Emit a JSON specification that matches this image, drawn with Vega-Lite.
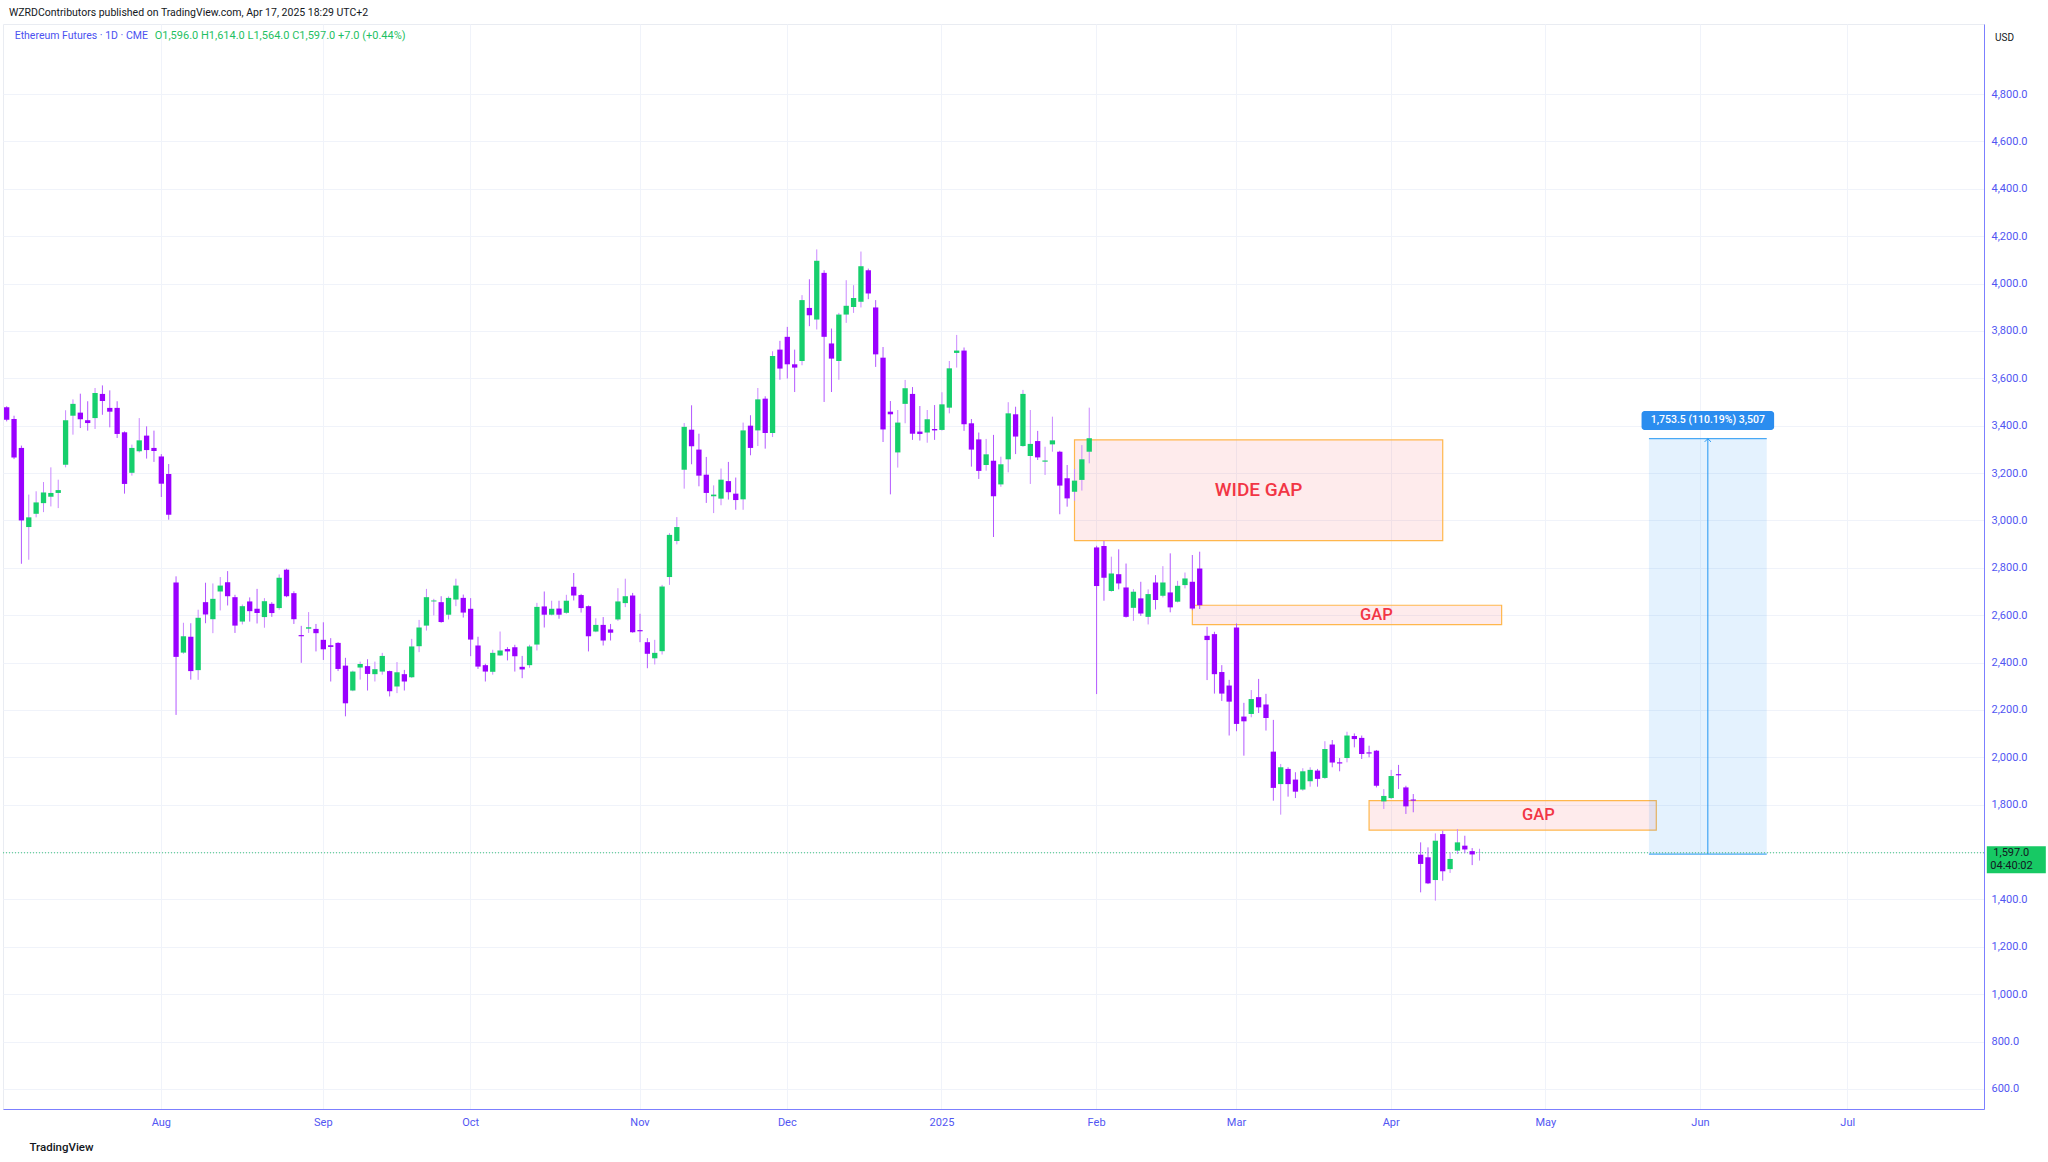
{
  "$schema": "https://vega.github.io/schema/vega-lite/v6.json",
  "width": 1981,
  "height": 1085,
  "autosize": {"type": "none"},
  "padding": {"left": 3, "top": 24, "right": 64, "bottom": 53},
  "background": "#ffffff",
  "config": {
    "font": "Roboto",
    "view": {"stroke": "#e9ecf2", "strokeWidth": 1},
    "axis": {"labelFont": "Roboto", "titleFont": "Roboto"}
  },
  "title": {
    "text": "WZRDContributors published on TradingView.com, Apr 17, 2025 18:29 UTC+2",
    "anchor": "start", "frame": "group", "orient": "top",
    "fontSize": 10.5, "fontWeight": "normal", "color": "#131722",
    "offset": 6, "dx": 6
  },
  "datasets": {
    "candles": [
      {"d":"2024-07-02","o":3478,"h":3482,"l":3418,"c":3425},
      {"d":"2024-07-03","o":3428,"h":3442,"l":3259,"c":3266},
      {"d":"2024-07-05","o":3306,"h":3316,"l":2817,"c":3000},
      {"d":"2024-07-08","o":2972,"h":3109,"l":2834,"c":3013},
      {"d":"2024-07-09","o":3028,"h":3123,"l":3013,"c":3076},
      {"d":"2024-07-10","o":3073,"h":3162,"l":3035,"c":3118},
      {"d":"2024-07-11","o":3100,"h":3224,"l":3059,"c":3116},
      {"d":"2024-07-12","o":3116,"h":3172,"l":3052,"c":3128},
      {"d":"2024-07-15","o":3235,"h":3465,"l":3224,"c":3423},
      {"d":"2024-07-16","o":3442,"h":3511,"l":3362,"c":3492},
      {"d":"2024-07-17","o":3455,"h":3535,"l":3390,"c":3427},
      {"d":"2024-07-18","o":3423,"h":3503,"l":3379,"c":3411},
      {"d":"2024-07-19","o":3432,"h":3559,"l":3386,"c":3538},
      {"d":"2024-07-22","o":3534,"h":3570,"l":3446,"c":3504},
      {"d":"2024-07-23","o":3475,"h":3549,"l":3393,"c":3459},
      {"d":"2024-07-24","o":3475,"h":3503,"l":3348,"c":3365},
      {"d":"2024-07-25","o":3372,"h":3376,"l":3113,"c":3154},
      {"d":"2024-07-26","o":3201,"h":3320,"l":3189,"c":3306},
      {"d":"2024-07-29","o":3292,"h":3432,"l":3287,"c":3338},
      {"d":"2024-07-30","o":3358,"h":3397,"l":3261,"c":3297},
      {"d":"2024-07-31","o":3306,"h":3379,"l":3247,"c":3293},
      {"d":"2024-08-01","o":3270,"h":3280,"l":3099,"c":3155},
      {"d":"2024-08-02","o":3196,"h":3238,"l":3003,"c":3024},
      {"d":"2024-08-05","o":2738,"h":2764,"l":2179,"c":2424},
      {"d":"2024-08-06","o":2442,"h":2568,"l":2437,"c":2511},
      {"d":"2024-08-07","o":2509,"h":2566,"l":2328,"c":2364},
      {"d":"2024-08-08","o":2368,"h":2623,"l":2327,"c":2589},
      {"d":"2024-08-09","o":2655,"h":2737,"l":2566,"c":2603},
      {"d":"2024-08-12","o":2583,"h":2734,"l":2524,"c":2669},
      {"d":"2024-08-13","o":2700,"h":2761,"l":2620,"c":2725},
      {"d":"2024-08-14","o":2739,"h":2786,"l":2641,"c":2680},
      {"d":"2024-08-15","o":2676,"h":2686,"l":2525,"c":2556},
      {"d":"2024-08-16","o":2573,"h":2645,"l":2561,"c":2638},
      {"d":"2024-08-19","o":2658,"h":2675,"l":2573,"c":2617},
      {"d":"2024-08-20","o":2627,"h":2711,"l":2565,"c":2609},
      {"d":"2024-08-21","o":2592,"h":2672,"l":2547,"c":2659},
      {"d":"2024-08-22","o":2648,"h":2655,"l":2593,"c":2609},
      {"d":"2024-08-23","o":2630,"h":2772,"l":2623,"c":2758},
      {"d":"2024-08-26","o":2792,"h":2796,"l":2676,"c":2680},
      {"d":"2024-08-27","o":2693,"h":2701,"l":2563,"c":2583},
      {"d":"2024-08-28","o":2516,"h":2555,"l":2399,"c":2511},
      {"d":"2024-08-29","o":2543,"h":2613,"l":2525,"c":2549},
      {"d":"2024-08-30","o":2542,"h":2563,"l":2447,"c":2524},
      {"d":"2024-09-03","o":2496,"h":2570,"l":2411,"c":2456},
      {"d":"2024-09-04","o":2473,"h":2503,"l":2320,"c":2466},
      {"d":"2024-09-05","o":2483,"h":2486,"l":2364,"c":2373},
      {"d":"2024-09-06","o":2387,"h":2420,"l":2173,"c":2228},
      {"d":"2024-09-09","o":2282,"h":2366,"l":2279,"c":2362},
      {"d":"2024-09-10","o":2379,"h":2404,"l":2328,"c":2394},
      {"d":"2024-09-11","o":2385,"h":2414,"l":2282,"c":2352},
      {"d":"2024-09-12","o":2351,"h":2404,"l":2320,"c":2372},
      {"d":"2024-09-13","o":2362,"h":2441,"l":2349,"c":2428},
      {"d":"2024-09-16","o":2364,"h":2366,"l":2257,"c":2279},
      {"d":"2024-09-17","o":2299,"h":2402,"l":2271,"c":2359},
      {"d":"2024-09-18","o":2351,"h":2369,"l":2282,"c":2320},
      {"d":"2024-09-19","o":2338,"h":2500,"l":2335,"c":2468},
      {"d":"2024-09-20","o":2469,"h":2580,"l":2444,"c":2548},
      {"d":"2024-09-23","o":2556,"h":2711,"l":2535,"c":2676},
      {"d":"2024-09-24","o":2658,"h":2669,"l":2599,"c":2662},
      {"d":"2024-09-25","o":2655,"h":2680,"l":2568,"c":2571},
      {"d":"2024-09-26","o":2602,"h":2679,"l":2582,"c":2673},
      {"d":"2024-09-27","o":2666,"h":2754,"l":2638,"c":2725},
      {"d":"2024-09-30","o":2673,"h":2687,"l":2590,"c":2611},
      {"d":"2024-10-01","o":2627,"h":2672,"l":2427,"c":2497},
      {"d":"2024-10-02","o":2472,"h":2509,"l":2373,"c":2383},
      {"d":"2024-10-03","o":2389,"h":2395,"l":2320,"c":2362},
      {"d":"2024-10-04","o":2361,"h":2454,"l":2349,"c":2441},
      {"d":"2024-10-07","o":2430,"h":2531,"l":2428,"c":2451},
      {"d":"2024-10-08","o":2457,"h":2465,"l":2409,"c":2447},
      {"d":"2024-10-09","o":2465,"h":2475,"l":2362,"c":2427},
      {"d":"2024-10-10","o":2382,"h":2428,"l":2334,"c":2371},
      {"d":"2024-10-11","o":2389,"h":2475,"l":2378,"c":2468},
      {"d":"2024-10-14","o":2476,"h":2652,"l":2451,"c":2635},
      {"d":"2024-10-15","o":2637,"h":2700,"l":2548,"c":2602},
      {"d":"2024-10-16","o":2602,"h":2661,"l":2599,"c":2627},
      {"d":"2024-10-17","o":2628,"h":2661,"l":2585,"c":2602},
      {"d":"2024-10-18","o":2610,"h":2686,"l":2606,"c":2661},
      {"d":"2024-10-21","o":2720,"h":2778,"l":2662,"c":2683},
      {"d":"2024-10-22","o":2685,"h":2690,"l":2611,"c":2630},
      {"d":"2024-10-23","o":2638,"h":2641,"l":2447,"c":2511},
      {"d":"2024-10-24","o":2531,"h":2587,"l":2528,"c":2559},
      {"d":"2024-10-25","o":2559,"h":2592,"l":2472,"c":2493},
      {"d":"2024-10-28","o":2540,"h":2563,"l":2493,"c":2526},
      {"d":"2024-10-29","o":2582,"h":2714,"l":2576,"c":2658},
      {"d":"2024-10-30","o":2651,"h":2754,"l":2634,"c":2680},
      {"d":"2024-10-31","o":2683,"h":2694,"l":2526,"c":2528},
      {"d":"2024-11-01","o":2537,"h":2606,"l":2486,"c":2532},
      {"d":"2024-11-04","o":2486,"h":2503,"l":2376,"c":2437},
      {"d":"2024-11-05","o":2418,"h":2496,"l":2392,"c":2441},
      {"d":"2024-11-06","o":2448,"h":2728,"l":2434,"c":2721},
      {"d":"2024-11-07","o":2761,"h":2946,"l":2728,"c":2939},
      {"d":"2024-11-08","o":2913,"h":3014,"l":2899,"c":2972},
      {"d":"2024-11-11","o":3214,"h":3411,"l":3134,"c":3395},
      {"d":"2024-11-12","o":3383,"h":3486,"l":3237,"c":3313},
      {"d":"2024-11-13","o":3299,"h":3366,"l":3144,"c":3189},
      {"d":"2024-11-14","o":3193,"h":3268,"l":3074,"c":3116},
      {"d":"2024-11-15","o":3102,"h":3148,"l":3031,"c":3109},
      {"d":"2024-11-18","o":3092,"h":3219,"l":3064,"c":3172},
      {"d":"2024-11-19","o":3166,"h":3247,"l":3088,"c":3119},
      {"d":"2024-11-20","o":3113,"h":3181,"l":3045,"c":3086},
      {"d":"2024-11-21","o":3089,"h":3413,"l":3045,"c":3380},
      {"d":"2024-11-22","o":3400,"h":3444,"l":3275,"c":3306},
      {"d":"2024-11-25","o":3380,"h":3559,"l":3314,"c":3511},
      {"d":"2024-11-26","o":3514,"h":3524,"l":3303,"c":3369},
      {"d":"2024-11-27","o":3369,"h":3714,"l":3352,"c":3694},
      {"d":"2024-11-29","o":3721,"h":3758,"l":3594,"c":3641},
      {"d":"2024-12-02","o":3775,"h":3817,"l":3599,"c":3659},
      {"d":"2024-12-03","o":3659,"h":3721,"l":3542,"c":3645},
      {"d":"2024-12-04","o":3673,"h":3951,"l":3655,"c":3930},
      {"d":"2024-12-05","o":3897,"h":4018,"l":3820,"c":3866},
      {"d":"2024-12-06","o":3848,"h":4144,"l":3806,"c":4096},
      {"d":"2024-12-09","o":4045,"h":4056,"l":3500,"c":3775},
      {"d":"2024-12-10","o":3747,"h":3810,"l":3542,"c":3683},
      {"d":"2024-12-11","o":3673,"h":3876,"l":3594,"c":3869},
      {"d":"2024-12-12","o":3869,"h":4014,"l":3834,"c":3906},
      {"d":"2024-12-13","o":3901,"h":3993,"l":3876,"c":3939},
      {"d":"2024-12-16","o":3923,"h":4135,"l":3899,"c":4073},
      {"d":"2024-12-17","o":4056,"h":4063,"l":3934,"c":3958},
      {"d":"2024-12-18","o":3899,"h":3930,"l":3648,"c":3701},
      {"d":"2024-12-19","o":3687,"h":3732,"l":3331,"c":3384},
      {"d":"2024-12-20","o":3459,"h":3504,"l":3110,"c":3448},
      {"d":"2024-12-23","o":3287,"h":3466,"l":3223,"c":3413},
      {"d":"2024-12-24","o":3492,"h":3593,"l":3410,"c":3558},
      {"d":"2024-12-26","o":3534,"h":3563,"l":3340,"c":3366},
      {"d":"2024-12-27","o":3375,"h":3483,"l":3337,"c":3365},
      {"d":"2024-12-30","o":3371,"h":3466,"l":3328,"c":3427},
      {"d":"2024-12-31","o":3386,"h":3487,"l":3340,"c":3380},
      {"d":"2025-01-02","o":3382,"h":3541,"l":3379,"c":3490},
      {"d":"2025-01-03","o":3476,"h":3673,"l":3452,"c":3642},
      {"d":"2025-01-06","o":3707,"h":3783,"l":3645,"c":3717},
      {"d":"2025-01-07","o":3717,"h":3730,"l":3378,"c":3406},
      {"d":"2025-01-08","o":3410,"h":3428,"l":3227,"c":3299},
      {"d":"2025-01-09","o":3342,"h":3371,"l":3175,"c":3209},
      {"d":"2025-01-10","o":3234,"h":3344,"l":3210,"c":3279},
      {"d":"2025-01-13","o":3252,"h":3361,"l":2930,"c":3102},
      {"d":"2025-01-14","o":3152,"h":3269,"l":3142,"c":3237},
      {"d":"2025-01-15","o":3258,"h":3499,"l":3203,"c":3452},
      {"d":"2025-01-16","o":3448,"h":3480,"l":3280,"c":3354},
      {"d":"2025-01-17","o":3314,"h":3551,"l":3311,"c":3534},
      {"d":"2025-01-21","o":3272,"h":3466,"l":3154,"c":3323},
      {"d":"2025-01-22","o":3335,"h":3378,"l":3255,"c":3266},
      {"d":"2025-01-23","o":3248,"h":3311,"l":3192,"c":3253},
      {"d":"2025-01-24","o":3321,"h":3438,"l":3290,"c":3338},
      {"d":"2025-01-27","o":3290,"h":3294,"l":3026,"c":3147},
      {"d":"2025-01-28","o":3178,"h":3234,"l":3058,"c":3093},
      {"d":"2025-01-29","o":3121,"h":3217,"l":3083,"c":3168},
      {"d":"2025-01-30","o":3171,"h":3318,"l":3126,"c":3258},
      {"d":"2025-01-31","o":3290,"h":3476,"l":3241,"c":3347},
      {"d":"2025-02-03","o":2886,"h":2893,"l":2267,"c":2723},
      {"d":"2025-02-04","o":2892,"h":2913,"l":2661,"c":2758},
      {"d":"2025-02-05","o":2702,"h":2847,"l":2699,"c":2776},
      {"d":"2025-02-06","o":2773,"h":2878,"l":2709,"c":2734},
      {"d":"2025-02-07","o":2717,"h":2818,"l":2590,"c":2593},
      {"d":"2025-02-10","o":2631,"h":2710,"l":2576,"c":2699},
      {"d":"2025-02-11","o":2671,"h":2741,"l":2597,"c":2607},
      {"d":"2025-02-12","o":2593,"h":2709,"l":2561,"c":2689},
      {"d":"2025-02-13","o":2738,"h":2769,"l":2624,"c":2664},
      {"d":"2025-02-14","o":2682,"h":2807,"l":2675,"c":2738},
      {"d":"2025-02-18","o":2696,"h":2861,"l":2612,"c":2633},
      {"d":"2025-02-19","o":2657,"h":2745,"l":2654,"c":2724},
      {"d":"2025-02-20","o":2727,"h":2780,"l":2713,"c":2755},
      {"d":"2025-02-21","o":2741,"h":2854,"l":2621,"c":2628},
      {"d":"2025-02-24","o":2797,"h":2868,"l":2626,"c":2642},
      {"d":"2025-02-25","o":2513,"h":2551,"l":2326,"c":2495},
      {"d":"2025-02-26","o":2520,"h":2530,"l":2269,"c":2351},
      {"d":"2025-02-27","o":2360,"h":2389,"l":2238,"c":2269},
      {"d":"2025-02-28","o":2303,"h":2327,"l":2092,"c":2235},
      {"d":"2025-03-03","o":2548,"h":2565,"l":2110,"c":2141},
      {"d":"2025-03-04","o":2172,"h":2230,"l":2007,"c":2152},
      {"d":"2025-03-05","o":2183,"h":2284,"l":2169,"c":2246},
      {"d":"2025-03-06","o":2254,"h":2331,"l":2187,"c":2211},
      {"d":"2025-03-07","o":2223,"h":2268,"l":2113,"c":2166},
      {"d":"2025-03-10","o":2024,"h":2158,"l":1817,"c":1871},
      {"d":"2025-03-11","o":1887,"h":1972,"l":1758,"c":1958},
      {"d":"2025-03-12","o":1951,"h":1958,"l":1834,"c":1887},
      {"d":"2025-03-13","o":1906,"h":1937,"l":1828,"c":1855},
      {"d":"2025-03-14","o":1864,"h":1954,"l":1859,"c":1941},
      {"d":"2025-03-17","o":1899,"h":1958,"l":1876,"c":1947},
      {"d":"2025-03-18","o":1944,"h":1951,"l":1876,"c":1909},
      {"d":"2025-03-19","o":1913,"h":2068,"l":1909,"c":2035},
      {"d":"2025-03-20","o":2054,"h":2073,"l":1958,"c":1978},
      {"d":"2025-03-21","o":1979,"h":1997,"l":1941,"c":1974},
      {"d":"2025-03-24","o":1997,"h":2108,"l":1979,"c":2092},
      {"d":"2025-03-25","o":2090,"h":2101,"l":2042,"c":2077},
      {"d":"2025-03-26","o":2082,"h":2092,"l":1993,"c":2014},
      {"d":"2025-03-27","o":2021,"h":2049,"l":2000,"c":2016},
      {"d":"2025-03-28","o":2028,"h":2031,"l":1873,"c":1880},
      {"d":"2025-03-31","o":1814,"h":1866,"l":1782,"c":1837},
      {"d":"2025-04-01","o":1828,"h":1947,"l":1824,"c":1921},
      {"d":"2025-04-02","o":1929,"h":1968,"l":1866,"c":1924},
      {"d":"2025-04-03","o":1873,"h":1880,"l":1761,"c":1793},
      {"d":"2025-04-04","o":1822,"h":1845,"l":1768,"c":1817},
      {"d":"2025-04-07","o":1589,"h":1641,"l":1430,"c":1550},
      {"d":"2025-04-08","o":1578,"h":1620,"l":1465,"c":1468},
      {"d":"2025-04-09","o":1482,"h":1679,"l":1395,"c":1648},
      {"d":"2025-04-10","o":1676,"h":1690,"l":1479,"c":1519},
      {"d":"2025-04-11","o":1528,"h":1599,"l":1512,"c":1571},
      {"d":"2025-04-14","o":1606,"h":1697,"l":1592,"c":1641},
      {"d":"2025-04-15","o":1627,"h":1669,"l":1595,"c":1611},
      {"d":"2025-04-16","o":1604,"h":1617,"l":1545,"c":1590},
      {"d":"2025-04-17","o":1596,"h":1614,"l":1564,"c":1597}
    ],
    "future": [
      {"d":"2025-04-21"},{"d":"2025-04-22"},{"d":"2025-04-23"},{"d":"2025-04-24"},{"d":"2025-04-25"},{"d":"2025-04-28"},{"d":"2025-04-29"},{"d":"2025-04-30"},
      {"d":"2025-05-01"},{"d":"2025-05-02"},{"d":"2025-05-05"},{"d":"2025-05-06"},{"d":"2025-05-07"},{"d":"2025-05-08"},{"d":"2025-05-09"},{"d":"2025-05-12"},{"d":"2025-05-13"},{"d":"2025-05-14"},{"d":"2025-05-15"},{"d":"2025-05-16"},{"d":"2025-05-19"},{"d":"2025-05-20"},{"d":"2025-05-21"},{"d":"2025-05-22"},{"d":"2025-05-23"},{"d":"2025-05-27"},{"d":"2025-05-28"},{"d":"2025-05-29"},{"d":"2025-05-30"},
      {"d":"2025-06-02"},{"d":"2025-06-03"},{"d":"2025-06-04"},{"d":"2025-06-05"},{"d":"2025-06-06"},{"d":"2025-06-09"},{"d":"2025-06-10"},{"d":"2025-06-11"},{"d":"2025-06-12"},{"d":"2025-06-13"},{"d":"2025-06-16"},{"d":"2025-06-17"},{"d":"2025-06-18"},{"d":"2025-06-20"},{"d":"2025-06-23"},{"d":"2025-06-24"},{"d":"2025-06-25"},{"d":"2025-06-26"},{"d":"2025-06-27"},{"d":"2025-06-30"},
      {"d":"2025-07-01"},{"d":"2025-07-02"},{"d":"2025-07-03"},{"d":"2025-07-07"},{"d":"2025-07-08"},{"d":"2025-07-09"},{"d":"2025-07-10"},{"d":"2025-07-11"},{"d":"2025-07-14"},{"d":"2025-07-15"},{"d":"2025-07-16"},{"d":"2025-07-17"},{"d":"2025-07-18"},{"d":"2025-07-21"},{"d":"2025-07-22"},{"d":"2025-07-23"},{"d":"2025-07-24"},{"d":"2025-07-25"},{"d":"2025-07-28"}
    ],
    "gaps": [
      {"x1":"2025-01-29","x2":"2025-04-10","top":3340,"bottom":2915,"label":"WIDE GAP","at":"2025-03-06","ly":3130},
      {"x1":"2025-02-21","x2":"2025-04-23","top":2642,"bottom":2560,"label":"GAP","at":"2025-03-28","ly":2601},
      {"x1":"2025-03-27","x2":"2025-05-22","top":1817,"bottom":1693,"label":"GAP","at":"2025-04-30","ly":1755}
    ],
    "measure": [
      {"x1":"2025-05-21","x2":"2025-06-13","from":1591.5,"to":3345,"mid":"2025-06-03","lx1":"2025-05-20","lx2":"2025-06-16","ltop":3462,"lbottom":3382,"ly":3422,"label":"1,753.5 (110.19%) 3,507"}
    ],
    "current": [
      {"price": 1597, "price_label": "1,597.0", "countdown": "04:40:02", "last_slot": "2025-07-28", "first": "2024-07-02", "name": "Ethereum Futures · 1D · CME", "ohlc": "O1,596.0  H1,614.0  L1,564.0  C1,597.0  +7.0 (+0.44%)", "legend_y": 5046}
    ]
  },
  "layer": [
    {
      "data": {"name": "future"},
      "mark": {"type": "rule", "strokeOpacity": 0},
      "encoding": {
        "x": {
          "field": "d", "type": "ordinal",
          "scale": {"paddingInner": 0, "paddingOuter": 0},
          "axis": {
            "values": ["2024-08-01","2024-09-03","2024-10-01","2024-11-01","2024-12-02","2025-01-02","2025-02-03","2025-03-03","2025-04-01","2025-05-01","2025-06-02","2025-07-01"],
            "labelExpr": "datum.value == '2025-01-02' ? '2025' : utcFormat(toDate(datum.value), '%b')",
            "title": "TradingView", "titleAnchor": "start", "titleAlign": "left", "titleX": 26, "titleY": 38,
            "titleBaseline": "middle", "titleFontSize": 11.5, "titleFontWeight": 500, "titleColor": "#131722",
            "labelAngle": 0, "labelColor": "#5256f2", "labelFontSize": 11, "labelPadding": 7,
            "ticks": false, "domainColor": "#7c7fff", "grid": true, "gridColor": "#f0f3fa",
            "bandPosition": 0.5, "labelOverlap": false
          }
        }
      }
    },
    {
      "data": {"name": "gaps"},
      "mark": {"type": "rect", "fill": "#f23645", "fillOpacity": 0.1, "stroke": "#ffb74d", "strokeWidth": 1.2},
      "encoding": {
        "x": {"field": "x1", "type": "ordinal", "bandPosition": 0.5},
        "x2": {"field": "x2"},
        "y": {
          "field": "top", "type": "quantitative",
          "scale": {"domain": [515.5, 5095.5], "nice": false, "zero": false},
          "axis": {
            "orient": "right",
            "values": [600,800,1000,1200,1400,1600,1800,2000,2200,2400,2600,2800,3000,3200,3400,3600,3800,4000,4200,4400,4600,4800],
            "format": ",.1f",
            "title": "USD", "titleAngle": 0, "titleAlign": "center", "titleBaseline": "middle",
            "titleX": 20, "titleY": 13, "titleFontSize": 10, "titleFontWeight": "normal", "titleColor": "#131722",
            "labelColor": "#5256f2", "labelFontSize": 11, "labelPadding": 7,
            "ticks": false, "domainColor": "#7c7fff", "grid": true, "gridColor": "#f0f3fa"
          }
        },
        "y2": {"field": "bottom"}
      }
    },
    {
      "data": {"name": "measure"},
      "mark": {"type": "rect", "fill": "#2196f3", "fillOpacity": 0.12},
      "encoding": {
        "x": {"field": "x1", "type": "ordinal", "bandPosition": 0.5},
        "x2": {"field": "x2"},
        "y": {"field": "to", "type": "quantitative"},
        "y2": {"field": "from"}
      }
    },
    {
      "data": {"name": "measure"},
      "mark": {"type": "rule", "color": "#2196f3", "strokeWidth": 1},
      "encoding": {
        "x": {"field": "x1", "type": "ordinal", "bandPosition": 0.5},
        "x2": {"field": "x2"},
        "y": {"field": "to", "type": "quantitative"}
      }
    },
    {
      "data": {"name": "measure"},
      "mark": {"type": "rule", "color": "#2196f3", "strokeWidth": 1},
      "encoding": {
        "x": {"field": "x1", "type": "ordinal", "bandPosition": 0.5},
        "x2": {"field": "x2"},
        "y": {"field": "from", "type": "quantitative"}
      }
    },
    {
      "data": {"name": "measure"},
      "mark": {"type": "rule", "color": "#2196f3", "strokeWidth": 1},
      "encoding": {
        "x": {"field": "mid", "type": "ordinal"},
        "y": {"field": "from", "type": "quantitative"},
        "y2": {"field": "to"}
      }
    },
    {
      "data": {"name": "measure"},
      "mark": {"type": "point", "shape": "M-1,1L0,0L1,1", "size": 40, "filled": false, "color": "#2196f3", "strokeWidth": 1, "opacity": 1},
      "encoding": {
        "x": {"field": "mid", "type": "ordinal"},
        "y": {"field": "to", "type": "quantitative"}
      }
    },
    {
      "data": {"name": "current"},
      "mark": {"type": "rule", "color": "#3cc47c", "strokeDash": [1, 2], "strokeWidth": 1},
      "encoding": {
        "y": {"field": "price", "type": "quantitative"}
      }
    },
    {
      "data": {"name": "candles"},
      "mark": {"type": "rule", "strokeWidth": 1},
      "encoding": {
        "x": {"field": "d", "type": "ordinal"},
        "y": {"field": "l", "type": "quantitative"},
        "y2": {"field": "h"},
        "color": {"condition": {"test": "datum.c >= datum.o", "value": "#c988ff"}, "value": "#b358ff"}
      }
    },
    {
      "data": {"name": "candles"},
      "mark": {"type": "bar", "width": {"band": 0.72}},
      "encoding": {
        "x": {"field": "d", "type": "ordinal"},
        "y": {"field": "o", "type": "quantitative"},
        "y2": {"field": "c"},
        "color": {"condition": {"test": "datum.c >= datum.o", "value": "#16cf6c"}, "value": "#9a00ff"}
      }
    },
    {
      "data": {"name": "gaps"},
      "mark": {"type": "text", "color": "#f23645", "fontWeight": 500, "align": "center", "baseline": "middle"},
      "encoding": {
        "x": {"field": "at", "type": "ordinal"},
        "y": {"field": "ly", "type": "quantitative"},
        "text": {"field": "label"},
        "size": {"field": "label", "type": "nominal", "scale": {"domain": ["WIDE GAP", "GAP"], "range": [19, 16.5]}, "legend": null}
      }
    },
    {
      "data": {"name": "measure"},
      "mark": {"type": "rect", "fill": "#2b8def", "cornerRadius": 3},
      "encoding": {
        "x": {"field": "lx1", "type": "ordinal", "bandPosition": 0.5},
        "x2": {"field": "lx2"},
        "y": {"field": "ltop", "type": "quantitative"},
        "y2": {"field": "lbottom"}
      }
    },
    {
      "data": {"name": "measure"},
      "mark": {"type": "text", "color": "#ffffff", "fontSize": 10.5, "fontWeight": 500, "align": "center", "baseline": "middle"},
      "encoding": {
        "x": {"field": "mid", "type": "ordinal"},
        "y": {"field": "ly", "type": "quantitative"},
        "text": {"field": "label"}
      }
    },
    {
      "data": {"name": "current"},
      "mark": {"type": "point", "shape": "M-1,-0.458H1V0.458H-1Z", "size": 3481, "filled": true, "color": "#17c964", "opacity": 1, "xOffset": 36, "yOffset": 7, "clip": false},
      "encoding": {
        "x": {"field": "last_slot", "type": "ordinal"},
        "y": {"field": "price", "type": "quantitative"}
      }
    },
    {
      "data": {"name": "current"},
      "mark": {"type": "text", "align": "left", "baseline": "middle", "dx": 13, "fontSize": 11, "color": "#131722", "clip": false},
      "encoding": {
        "x": {"field": "last_slot", "type": "ordinal"},
        "y": {"field": "price", "type": "quantitative"},
        "text": {"field": "price_label"}
      }
    },
    {
      "data": {"name": "current"},
      "mark": {"type": "text", "align": "left", "baseline": "middle", "dx": 10, "dy": 13, "fontSize": 11, "color": "#131722", "clip": false},
      "encoding": {
        "x": {"field": "last_slot", "type": "ordinal"},
        "y": {"field": "price", "type": "quantitative"},
        "text": {"field": "countdown"}
      }
    },
    {
      "data": {"name": "current"},
      "mark": {"type": "text", "align": "left", "baseline": "middle", "dx": 8, "fontSize": 10.5, "color": "#4c52f0"},
      "encoding": {
        "x": {"field": "first", "type": "ordinal"},
        "y": {"field": "legend_y", "type": "quantitative"},
        "text": {"field": "name"}
      }
    },
    {
      "data": {"name": "current"},
      "mark": {"type": "text", "align": "left", "baseline": "middle", "dx": 148, "fontSize": 11, "color": "#1fbf63"},
      "encoding": {
        "x": {"field": "first", "type": "ordinal"},
        "y": {"field": "legend_y", "type": "quantitative"},
        "text": {"field": "ohlc"}
      }
    }
  ]
}
